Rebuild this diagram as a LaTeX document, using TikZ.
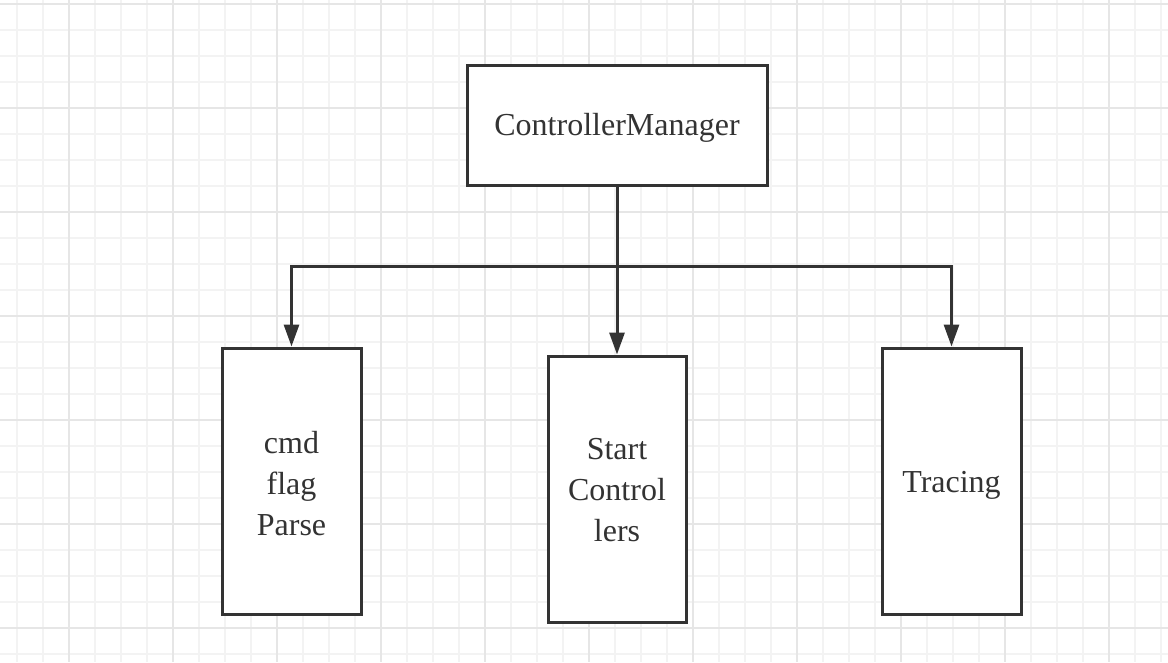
\documentclass[tikz,border=0pt]{standalone}
\usepackage{fontspec}
\setmainfont{Liberation Serif}
\usetikzlibrary{arrows.meta}
\definecolor{ink}{HTML}{333333}
\definecolor{gridminor}{HTML}{F3F3F3}
\definecolor{gridmajor}{HTML}{E6E6E6}
\tikzset{
  box/.style={draw=ink, line width=3pt, fill=white, rectangle, inner sep=0pt},
  boxtext/.style={text=ink, font=\fontsize{32}{41}\selectfont, align=center, inner sep=0pt},
  conn/.style={draw=ink, line width=3pt},
  arrowconn/.style={conn, -{Triangle[length=22pt,width=15pt]}},
}
\begin{document}
\begin{tikzpicture}[x=1pt,y=-1pt]
\useasboundingbox (0,0) rectangle (1168,662);
\fill[white] (0,0) rectangle (1168,662);
% grid
\foreach \k in {0,...,44} {
  \pgfmathsetmacro{\gx}{17+26*\k}
  \draw[gridminor, line width=1.5pt] (\gx,0) -- (\gx,662);
}
\foreach \k in {0,...,25} {
  \pgfmathsetmacro{\gy}{4+26*\k}
  \draw[gridminor, line width=1.5pt] (0,\gy) -- (1168,\gy);
}
\foreach \gx in {69,173,...,1109} {
  \draw[gridmajor, line width=1.6pt] (\gx,0) -- (\gx,662);
}
\foreach \gy in {4,108,...,628} {
  \draw[gridmajor, line width=1.6pt] (0,\gy) -- (1168,\gy);
}
% nodes
\node[box, minimum width=300pt, minimum height=120pt,
  label={[boxtext, yshift=-3pt]center:ControllerManager}] (cm) at (617,125) {};
\node[box, minimum width=139pt, minimum height=266pt,
  label={[boxtext, yshift=-3pt]center:cmd\\flag\\Parse}] (cmd) at (291.5,481) {};
\node[box, minimum width=138pt, minimum height=266pt,
  label={[boxtext, yshift=-1.5pt]center:Start\\Control\\lers}] (sc) at (617,489) {};
\node[box, minimum width=139pt, minimum height=266pt,
  label={[boxtext, yshift=-4.5pt]center:Tracing}] (tr) at (951.5,481) {};
% connectors
\coordinate (j) at (617,266);
\draw[arrowconn] (j) -| (cmd.north);
\draw[arrowconn] (j) -| (tr.north);
\draw[arrowconn] (cm.south) -- (sc.north);
\end{tikzpicture}
\end{document}
